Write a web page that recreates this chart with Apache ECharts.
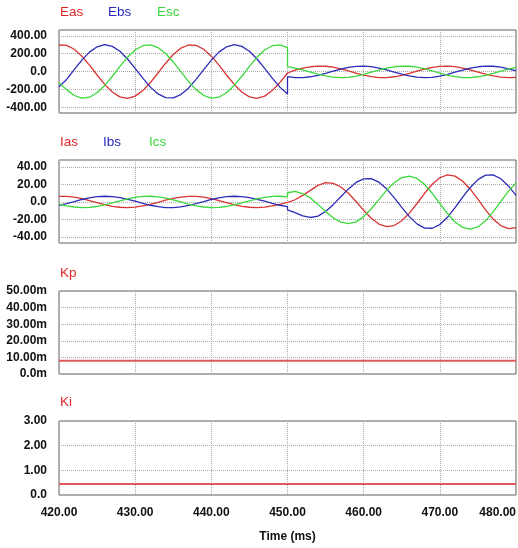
<!DOCTYPE html>
<html>
<head>
<meta charset="utf-8">
<script src="https://cdn.jsdelivr.net/npm/echarts@6/dist/echarts.min.js"></script>
<style>
  html, body { margin: 0; padding: 0; background: #ffffff; }
  #chart { width: 518px; height: 548px; }
</style>
</head>
<body>
<div id="chart"></div>
<script>
// Sample times (ms): before and after the switching instant at 450 ms
const timePre  = [420,421,422,423,424,425,426,427,428,429,430,431,432,433,434,435,436,437,438,439,440,441,442,443,444,445,446,447,448,449,450];
const timePost = [450,451,452,453,454,455,456,457,458,459,460,461,462,463,464,465,466,467,468,469,470,471,472,473,474,475,476,477,478,479,480];

// Phase voltages
const easPre  = [297,293,249,172,71,-39,-144,-229,-284,-300,-276,-214,-124,-17,93,190,261,297,293,249,172,71,-39,-144,-229,-284,-300,-276,-214,-124,-17];
const ebsPre  = [-170,-89,20,127,217,277,300,282,227,140,35,-75,-175,-251,-293,-296,-259,-187,-89,20,127,217,277,300,282,227,140,35,-75,-175,-251];
const escPre  = [-125,-203,-269,-299,-288,-238,-156,-53,57,159,241,289,299,268,201,107,-2,-110,-203,-269,-299,-288,-238,-156,-53,57,159,241,289,299,268];
const easPost = [-6,16,38,53,61,59,48,30,6,-18,-41,-58,-68,-68,-59,-43,-21,4,27,46,58,61,54,39,18,-6,-30,-50,-64,-69,-65];
const ebsPost = [-58,-68,-68,-59,-43,-21,4,27,46,58,61,54,39,18,-6,-30,-50,-64,-69,-65,-52,-32,-8,16,38,53,61,59,48,30,6];
const escPost = [54,39,18,-6,-30,-50,-64,-69,-65,-52,-32,-8,16,38,53,61,59,48,30,6,-18,-41,-58,-68,-68,-59,-43,-21,4,27,46];

// Phase currents
const iasPre  = [6.4,6.3,5.4,3.7,1.5,-0.8,-3.1,-5.0,-6.1,-6.5,-6.0,-4.6,-2.7,-0.4,2.0,4.1,5.6,6.4,6.3,5.4,3.7,1.5,-0.8,-3.1,-5.0,-6.1,-6.5,-6.0,-4.6,-2.7,-0.4];
const ibsPre  = [-4.0,-1.9,0.4,2.8,4.7,6.0,6.5,6.1,4.9,3.0,0.8,-1.6,-3.8,-5.4,-6.4,-6.4,-5.6,-4.0,-1.9,0.4,2.8,4.7,6.0,6.5,6.1,4.9,3.0,0.8,-1.6,-3.8,-5.4];
const icsPre  = [-2.4,-4.4,-5.8,-6.5,-6.2,-5.2,-3.4,-1.2,1.2,3.5,5.2,6.3,6.5,5.8,4.3,2.3,0.0,-2.4,-4.4,-5.8,-6.5,-6.2,-5.2,-3.4,-1.2,1.2,3.5,5.2,6.3,6.5,5.8];
const iasPost = [-1.0,2.5,7.5,13.2,19.0,22.0,21.3,17.1,9.9,0.5,-9.6,-18.7,-25.3,-28.2,-27.0,-21.6,-12.8,-1.8,9.9,20.2,27.7,30.9,29.5,23.7,14.6,3.1,-9.1,-19.7,-27.1,-30.5,-29.4];
const ibsPost = [-9.0,-12.3,-15.9,-17.8,-16.2,-11.0,-3.1,6.0,14.9,22.3,26.4,26.6,22.6,15.0,5.0,-6.2,-16.8,-25.1,-29.9,-30.1,-25.9,-17.6,-6.6,5.4,16.6,25.5,30.7,30.9,26.5,18.3,7.6];
const icsPost = [10.5,12.0,9.6,4.6,-2.8,-11.0,-18.2,-23.1,-24.8,-22.8,-16.8,-7.8,2.7,13.2,22.0,27.8,29.6,26.9,20.1,9.9,-1.8,-13.3,-23.0,-29.1,-31.2,-28.6,-21.6,-11.3,0.6,12.1,21.8];

// Controller gains
const gainTime = [420, 480];
const kpValues = [0.008, 0.008];
const kiValues = [0.45, 0.45];

// Axis tick labels
const voltTicks = [-400, -200, 0, 200, 400];
const currTicks = [-40, -20, 0, 20, 40];

const RED = '#d83434', BLUE = '#2c2cb8', GREEN = '#3cd83c';
const TITLE_RED = '#e3262a', TITLE_BLUE = '#2a2abf', TITLE_GREEN = '#3ad83a';
const FONT = '"Liberation Sans", Arial, sans-serif';

function pairs(t, v) { return t.map((x, i) => [x, v[i]]); }
function joined(tA, vA, tB, vB) { return pairs(tA, vA).concat(pairs(tB, vB)); }

const grids = [
  { top: 30,  height: 83 },
  { top: 160, height: 83 },
  { top: 291, height: 83 },
  { top: 421, height: 74 }
].map(g => ({ left: 59, width: 457, top: g.top, height: g.height, show: true,
              containLabel: false, outerBoundsMode: 'none',
              borderColor: '#606060', borderWidth: 1, backgroundColor: '#ffffff' }));

const gridLine = { show: true, lineStyle: { color: '#aaaaaa', type: 'dotted', width: 1 } };
const tickFont = { color: '#111', fontFamily: FONT, fontWeight: 'bold', fontSize: 12 };

function fmt2(v) { return v === 0 ? '0.0' : v.toFixed(2); }

const xAxes = [0, 1, 2, 3].map(i => ({
  type: 'value', gridIndex: i, min: 420, max: 480, interval: 10,
  axisLine: { show: false }, axisTick: { show: false },
  splitLine: gridLine,
  axisLabel: i === 3 ? Object.assign({ show: true, margin: 12, formatter: v => v.toFixed(2),
                                       alignMaxLabel: 'right' }, tickFont)
                     : { show: false },
  name: i === 3 ? 'Time (ms)' : '',
  nameLocation: 'middle', nameGap: 36,
  nameTextStyle: { color: '#111', fontFamily: FONT, fontWeight: 'bold', fontSize: 12 }
}));

const yAxes = [
  { min: -465, max: 465, custom: voltTicks, formatter: fmt2 },
  { min: -47,  max: 48,  custom: currTicks, formatter: fmt2 },
  { min: 0, max: 0.05, interval: 0.01, formatter: v => (v === 0 ? '0.0' : (v * 1000).toFixed(2)) + 'm' },
  { min: 0, max: 3, interval: 1, formatter: fmt2 }
].map((a, i) => {
  const ax = {
    type: 'value', gridIndex: i, min: a.min, max: a.max,
    axisLine: { show: false },
    axisTick: { show: false },
    splitLine: gridLine,
    axisLabel: Object.assign({ margin: 12, formatter: a.formatter }, tickFont)
  };
  if (a.interval) ax.interval = a.interval;
  if (a.custom) {
    ax.axisTick.customValues = a.custom;
    ax.axisLabel.customValues = a.custom;
  }
  return ax;
});

function wave(name, color, xi, data, width) {
  return { name, type: 'line', xAxisIndex: xi, yAxisIndex: xi, data,
           symbol: 'none', smooth: false, silent: true,
           lineStyle: { color, width: width || 1.3 } };
}

const series = [
  wave('Eas', RED,   0, joined(timePre, easPre, timePost, easPost)),
  wave('Ebs', BLUE,  0, joined(timePre, ebsPre, timePost, ebsPost)),
  wave('Esc', GREEN, 0, joined(timePre, escPre, timePost, escPost)),
  wave('Ias', RED,   1, joined(timePre, iasPre, timePost, iasPost)),
  wave('Ibs', BLUE,  1, joined(timePre, ibsPre, timePost, ibsPost)),
  wave('Ics', GREEN, 1, joined(timePre, icsPre, timePost, icsPost)),
  wave('Kp', '#de5a5a', 2, pairs(gainTime, kpValues), 2),
  wave('Ki', '#de5a5a', 3, pairs(gainTime, kiValues), 2)
];

function label(text, color, left, top) {
  return { text, left, top, padding: 0,
           textStyle: { color, fontFamily: FONT, fontWeight: 'normal', fontSize: 13.5 } };
}

const titles = [
  label('Eas', TITLE_RED, 60, 5),   label('Ebs', TITLE_BLUE, 108, 5),  label('Esc', TITLE_GREEN, 157, 5),
  label('Ias', TITLE_RED, 60, 135), label('Ibs', TITLE_BLUE, 103, 135), label('Ics', TITLE_GREEN, 149, 135),
  label('Kp', TITLE_RED, 60, 266),
  label('Ki', TITLE_RED, 60, 395)
];

const chart = echarts.init(document.getElementById('chart'), null, { renderer: 'canvas' });
chart.setOption({
  animation: false,
  backgroundColor: '#ffffff',
  title: titles,
  grid: grids,
  xAxis: xAxes,
  yAxis: yAxes,
  series
});
</script>
</body>
</html>
